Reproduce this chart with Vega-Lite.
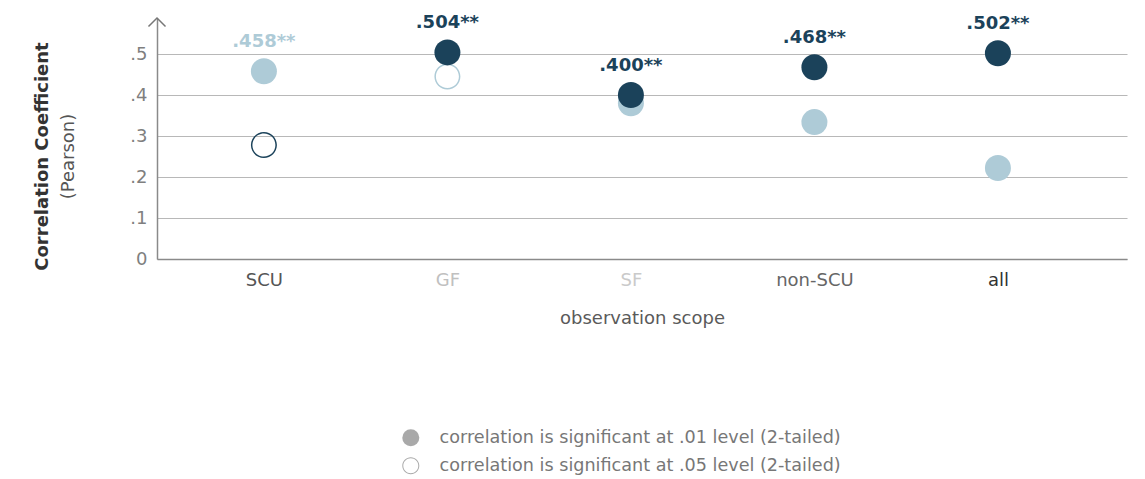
{
  "$schema": "https://vega.github.io/schema/vega-lite/v6.json",
  "width": 970,
  "height": 241,
  "autosize": {"type": "none"},
  "padding": {"left": 157, "top": 18, "right": 18, "bottom": 220},
  "background": "white",
  "config": {
    "view": {"stroke": null},
    "font": "DejaVu Sans",
    "axis": {"labelFont": "DejaVu Sans", "titleFont": "DejaVu Sans"},
    "legend": {"labelFont": "DejaVu Sans"}
  },
  "datasets": {
    "corr": [
      {"scope": "SCU", "metric": "first", "r": 0.458, "sig": ".01", "label": ".458**"},
      {"scope": "GF", "metric": "first", "r": 0.445, "sig": ".05", "label": null},
      {"scope": "SF", "metric": "first", "r": 0.38, "sig": ".01", "label": null},
      {"scope": "non-SCU", "metric": "first", "r": 0.334, "sig": ".01", "label": null},
      {"scope": "all", "metric": "first", "r": 0.222, "sig": ".01", "label": null},
      {"scope": "SCU", "metric": "second", "r": 0.278, "sig": ".05", "label": null},
      {"scope": "GF", "metric": "second", "r": 0.504, "sig": ".01", "label": ".504**"},
      {"scope": "SF", "metric": "second", "r": 0.4, "sig": ".01", "label": ".400**"},
      {"scope": "non-SCU", "metric": "second", "r": 0.468, "sig": ".01", "label": ".468**"},
      {"scope": "all", "metric": "second", "r": 0.502, "sig": ".01", "label": ".502**"}
    ]
  },
  "resolve": {"axis": {"y": "independent"}},
  "layer": [
    {
      "data": {"name": "corr"},
      "mark": {"type": "point", "filled": true, "size": 676, "strokeWidth": 0, "opacity": 1},
      "encoding": {
        "x": {
          "field": "scope",
          "type": "nominal",
          "sort": ["SCU", "GF", "SF", "non-SCU", "all"],
          "scale": {"type": "point", "padding": 0.643, "align": 0.453},
          "axis": {
            "title": "observation scope",
            "titleFontSize": 18,
            "titleFontWeight": "normal",
            "titleColor": "#5a5a5a",
            "titlePadding": 20,
            "labelAngle": 0,
            "labelFontSize": 18,
            "labelPadding": 12,
            "labelColor": {
              "condition": [
                {"test": "datum.value === 'GF'", "value": "#c0c0c0"},
                {"test": "datum.value === 'SF'", "value": "#cacaca"},
                {"test": "datum.value === 'non-SCU'", "value": "#666666"},
                {"test": "datum.value === 'all'", "value": "#333333"}
              ],
              "value": "#555555"
            },
            "ticks": false,
            "grid": false,
            "domainColor": "#8a8a8a",
            "domainWidth": 1.5
          }
        },
        "y": {
          "field": "r",
          "type": "quantitative",
          "scale": {"domain": [0, 0.588], "nice": false, "zero": true},
          "axis": {
            "orient": "left",
            "values": [0, 0.1, 0.2, 0.3, 0.4, 0.5],
            "labelExpr": "datum.value == 0 ? '0' : replace(format(datum.value, '.1f'), '0.', '.')",
            "labelFontSize": 18,
            "labelColor": "#7f7f7f",
            "labelPadding": 10,
            "ticks": false,
            "grid": true,
            "gridColor": "#b8b8b8",
            "gridWidth": 1.2,
            "domainColor": "#8a8a8a",
            "domainWidth": 1.5,
            "title": "Correlation Coefficient",
            "titleFontSize": 18,
            "titleFontWeight": "bold",
            "titleColor": "#333333",
            "titleAngle": -90,
            "titleAlign": "center",
            "titleBaseline": "middle",
            "titleX": -115,
            "titleY": 138
          }
        },
        "fill": {
          "field": "metric",
          "type": "nominal",
          "scale": {"domain": ["first", "second"], "range": ["#aecbd7", "#1b425a"]},
          "legend": null
        },
        "shape": {
          "field": "sig",
          "type": "nominal",
          "scale": {
            "domain": [".01", ".05"],
            "range": [
              "circle",
              "M1,0A1,1,0,1,1,-1,0A1,1,0,1,1,1,0ZM0.885,0A0.885,0.885,0,1,0,-0.885,0A0.885,0.885,0,1,0,0.885,0Z"
            ]
          },
          "legend": {
            "title": null,
            "orient": "none",
            "legendX": 245,
            "legendY": 411,
            "direction": "vertical",
            "padding": 0,
            "rowPadding": 9,
            "symbolSize": 289,
            "symbolFillColor": "#a9a9a9",
            "symbolStrokeColor": "#a9a9a9",
            "symbolStrokeWidth": 0,
            "symbolOpacity": 1,
            "labelFontSize": 17.6,
            "labelColor": "#777777",
            "labelOffset": 20,
            "labelLimit": 600,
            "labelExpr": "datum.value == '.01' ? 'correlation is significant at .01 level (2-tailed)' : 'correlation is significant at .05 level (2-tailed)'"
          }
        }
      }
    },
    {
      "data": {"name": "corr"},
      "transform": [{"filter": "datum.label != null"}],
      "mark": {"type": "text", "fontSize": 18, "fontWeight": "bold", "dy": -24, "baseline": "alphabetic", "align": "center"},
      "encoding": {
        "x": {"field": "scope", "type": "nominal", "sort": ["SCU", "GF", "SF", "non-SCU", "all"]},
        "y": {
          "field": "r",
          "type": "quantitative",
          "axis": {
            "orient": "left",
            "labels": false,
            "ticks": false,
            "grid": false,
            "domain": false,
            "title": "(Pearson)",
            "titleFontSize": 18,
            "titleFontWeight": "normal",
            "titleColor": "#555555",
            "titleAngle": -90,
            "titleAlign": "center",
            "titleBaseline": "middle",
            "titleX": -89,
            "titleY": 138
          }
        },
        "text": {"field": "label"},
        "fill": {"field": "metric", "type": "nominal", "legend": null}
      }
    },
    {
      "data": {"values": [{}]},
      "mark": {"type": "point", "shape": "M-1,1L0,0L1,1", "filled": false, "size": 290, "stroke": "#777777", "strokeWidth": 1.5, "opacity": 1},
      "encoding": {
        "x": {"value": 0},
        "y": {"datum": 0.588, "type": "quantitative", "axis": null}
      }
    }
  ]
}
